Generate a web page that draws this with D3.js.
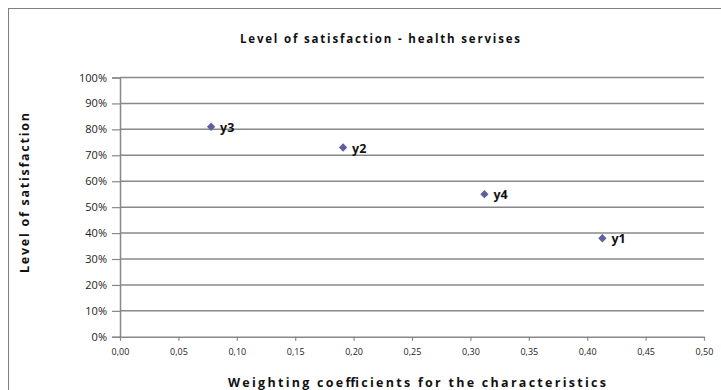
<!DOCTYPE html>
<html>
<head>
<meta charset="utf-8">
<script src="https://cdn.jsdelivr.net/npm/d3@7"></script>
<style>
  html, body { margin: 0; padding: 0; background: #fff; }
  svg { display: block; font-family: "Open Sans", "DejaVu Sans", sans-serif; }
</style>
</head>
<body>
<svg id="chart" width="721" height="390"></svg>
<script>
// Satisfaction levels against weighting coefficients
const labels = ["y1", "y2", "y3", "y4"];
const weights = [0.413, 0.191, 0.078, 0.312];
const satisfaction = [0.38, 0.73, 0.81, 0.55];
const xTicks = [0, 0.05, 0.1, 0.15, 0.2, 0.25, 0.3, 0.35, 0.4, 0.45, 0.5];
const yTicks = [0, 0.1, 0.2, 0.3, 0.4, 0.5, 0.6, 0.7, 0.8, 0.9, 1.0];

const svg = d3.select("#chart");
const plot = { left: 120, right: 704, top: 77.5, bottom: 336.8 };

// outer chart frame (extends past the right and bottom edges)
svg.append("rect")
  .attr("x", 8.5).attr("y", 8.5)
  .attr("width", 760).attr("height", 420)
  .attr("fill", "#fff").attr("stroke", "#7f7f7f").attr("stroke-width", 1);

const x = d3.scaleLinear().domain([0, 0.5]).range([plot.left, plot.right]);
const y = d3.scaleLinear().domain([0, 1]).range([plot.bottom, plot.top]);

// horizontal gridlines
svg.append("g")
  .selectAll("line")
  .data(yTicks.filter(d => d > 0))
  .join("line")
  .attr("x1", plot.left).attr("x2", plot.right)
  .attr("y1", d => y(d)).attr("y2", d => y(d))
  .attr("stroke", "#888").attr("stroke-width", 1.5);

// y axis
const yAxis = svg.append("g")
  .attr("transform", `translate(${plot.left},0)`)
  .call(d3.axisLeft(y).tickValues(yTicks).tickFormat(d3.format(".0%")).tickSize(8).tickPadding(5));
yAxis.select(".domain").attr("stroke", "#888").attr("stroke-width", 1.5);
yAxis.selectAll(".tick line").attr("stroke", "#888").attr("stroke-width", 1.2);
yAxis.selectAll(".tick text")
  .attr("fill", "#222").attr("font-size", 11)
  .attr("font-family", "'Open Sans', 'DejaVu Sans', sans-serif");

// x axis
const commaFmt = d => d3.format(".2f")(d).replace(".", ",");
const xAxis = svg.append("g")
  .attr("transform", `translate(0,${plot.bottom})`)
  .call(d3.axisBottom(x).tickValues(xTicks).tickFormat(commaFmt).tickSize(4).tickSizeOuter(0).tickPadding(8));
xAxis.select(".domain").attr("stroke", "#888").attr("stroke-width", 1.5);
xAxis.selectAll(".tick line").attr("stroke", "#888").attr("stroke-width", 1.2);
xAxis.selectAll(".tick text")
  .attr("fill", "#222").attr("font-size", 9)
  .attr("font-family", "'Open Sans', 'DejaVu Sans', sans-serif");

// points
const pts = labels.map((l, i) => ({ label: l, wx: weights[i], sy: satisfaction[i] }));
svg.append("g")
  .selectAll("path")
  .data(pts)
  .join("path")
  .attr("d", d3.symbol().type(d3.symbolDiamond2).size(44))
  .attr("transform", d => `translate(${x(d.wx)},${y(d.sy)})`)
  .attr("fill", "#5f5f9f");

// point labels
svg.append("g")
  .selectAll("text")
  .data(pts)
  .join("text")
  .attr("x", d => x(d.wx) + 9)
  .attr("y", d => y(d.sy) + 5)
  .attr("font-size", 12.5).attr("font-weight", "bold").attr("fill", "#111")
  .text(d => d.label);

// chart title
svg.append("text")
  .attr("x", 380).attr("y", 43)
  .attr("text-anchor", "middle")
  .attr("font-size", 11.5).attr("font-weight", "bold").attr("fill", "#111")
  .attr("textLength", 280).attr("lengthAdjust", "spacing")
  .text("Level of satisfaction - health servises");

// x axis title
svg.append("text")
  .attr("x", 417).attr("y", 387)
  .attr("text-anchor", "middle")
  .attr("font-size", 12.5).attr("font-weight", "bold").attr("fill", "#111")
  .attr("textLength", 378).attr("lengthAdjust", "spacing")
  .text("Weighting coefficients for the characteristics");

// y axis title
svg.append("text")
  .attr("transform", "translate(29,193) rotate(-90)")
  .attr("text-anchor", "middle")
  .attr("font-size", 12.5).attr("font-weight", "bold").attr("fill", "#111")
  .attr("textLength", 160).attr("lengthAdjust", "spacing")
  .text("Level of satisfaction");
</script>
</body>
</html>
